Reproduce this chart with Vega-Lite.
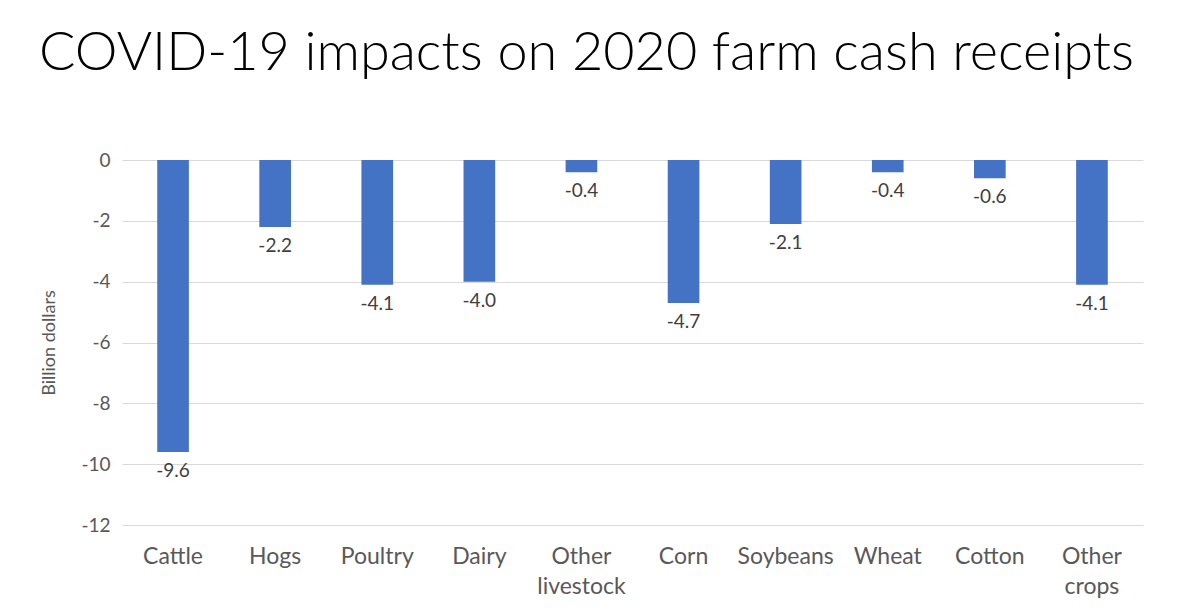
{
  "$schema": "https://vega.github.io/schema/vega-lite/v6.json",
  "width": 1021,
  "height": 365,
  "autosize": {"type": "none"},
  "padding": {"left": 122, "top": 160, "right": 57, "bottom": 89},
  "background": "white",
  "config": {
    "font": "Lato",
    "view": {"stroke": null},
    "locale": {"number": {"decimal": ".", "thousands": ",", "grouping": [3], "currency": ["$", ""], "minus": "-"}}
  },
  "title": {
    "text": "COVID-19 impacts on 2020 farm cash receipts",
    "font": "Lato",
    "fontSize": 54,
    "fontWeight": 300,
    "color": "#000000",
    "anchor": "middle",
    "dx": -46,
    "offset": 70
  },
  "data": {
    "values": [
      {"category": "Cattle", "value": -9.6},
      {"category": "Hogs", "value": -2.2},
      {"category": "Poultry", "value": -4.1},
      {"category": "Dairy", "value": -4.0},
      {"category": "Other livestock", "value": -0.4},
      {"category": "Corn", "value": -4.7},
      {"category": "Soybeans", "value": -2.1},
      {"category": "Wheat", "value": -0.4},
      {"category": "Cotton", "value": -0.6},
      {"category": "Other crops", "value": -4.1}
    ]
  },
  "encoding": {
    "x": {
      "field": "category",
      "type": "nominal",
      "sort": null,
      "scale": {"paddingInner": 0.69, "paddingOuter": 0.345},
      "axis": {
        "title": null,
        "labelAngle": 0,
        "labelFontSize": 23,
        "labelColor": "#595959",
        "labelPadding": 20,
        "labelLineHeight": 30,
        "labelExpr": "split(datum.label, ' ')",
        "domain": false,
        "ticks": false,
        "grid": false
      }
    },
    "y": {
      "field": "value",
      "type": "quantitative",
      "scale": {"domain": [-12, 0], "nice": false},
      "axis": {
        "title": "Billion dollars",
        "titleFontSize": 18,
        "titleFontWeight": "normal",
        "titleColor": "#595959",
        "titlePadding": 22,
        "values": [0, -2, -4, -6, -8, -10, -12],
        "labelFontSize": 19,
        "labelColor": "#595959",
        "labelPadding": 12,
        "domain": false,
        "ticks": false,
        "grid": true,
        "gridColor": "#d9d9d9",
        "gridWidth": 1
      }
    }
  },
  "layer": [
    {
      "mark": {"type": "bar", "color": "#4472C4"}
    },
    {
      "mark": {"type": "text", "baseline": "top", "dy": 10, "fontSize": 19, "color": "#404040"},
      "encoding": {
        "text": {"field": "value", "type": "quantitative", "format": ".1f"}
      }
    }
  ]
}
